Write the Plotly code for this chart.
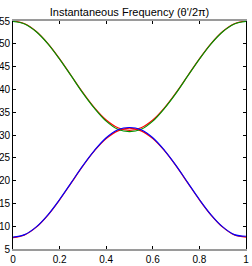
import plotly.graph_objects as go

t = [0.0, 0.05, 0.1, 0.15, 0.2, 0.25, 0.3, 0.35, 0.4, 0.45, 0.5,
     0.55, 0.6, 0.65, 0.7, 0.75, 0.8, 0.85, 0.9, 0.95, 1.0]

upper_true = [55.0, 54.41, 52.71, 50.05, 46.71, 43.0, 39.29, 35.95, 33.29, 31.59, 31.0,
              31.59, 33.29, 35.95, 39.29, 43.0, 46.71, 50.05, 52.71, 54.41, 55.0]
upper_est = [54.9, 54.35, 52.65, 50.0, 46.65, 42.95, 39.2, 35.85, 33.05, 31.25, 30.75,
             31.25, 33.05, 35.85, 39.2, 42.95, 46.65, 50.0, 52.65, 54.35, 54.9]
lower_true = [7.5, 8.09, 9.79, 12.45, 15.79, 19.5, 23.21, 26.55, 29.21, 30.91, 31.5,
              30.91, 29.21, 26.55, 23.21, 19.5, 15.79, 12.45, 9.79, 8.09, 7.6]
lower_est = [7.6, 8.15, 9.85, 12.5, 15.85, 19.55, 23.3, 26.65, 29.4, 31.15, 31.65,
             31.15, 29.4, 26.65, 23.3, 19.55, 15.85, 12.5, 9.85, 8.15, 7.8]

x_ticks = [0, 0.2, 0.4, 0.6, 0.8, 1]
x_tick_text = ["0", "0.2", "0.4", "0.6", "0.8", "1"]
y_ticks = [5, 10, 15, 20, 25, 30, 35, 40, 45, 50, 55]

fig = go.Figure()
line_kw = dict(mode="lines", line_shape="spline", hoverinfo="skip", showlegend=False)
fig.add_trace(go.Scatter(x=t, y=upper_true, line=dict(color="rgb(255,0,0)", width=1.2), **line_kw))
fig.add_trace(go.Scatter(x=t, y=lower_true, line=dict(color="rgb(255,0,0)", width=1.2), **line_kw))
fig.add_trace(go.Scatter(x=t, y=upper_est, line=dict(color="rgb(0,150,0)", width=1.2), **line_kw))
fig.add_trace(go.Scatter(x=t, y=lower_est, line=dict(color="rgb(0,0,255)", width=1.2), **line_kw))

font = dict(family="Liberation Sans, Arial, sans-serif", size=10, color="black")

fig.update_layout(
    width=252, height=266,
    margin=dict(l=13, r=6, t=21, b=17, pad=0),
    paper_bgcolor="white", plot_bgcolor="white",
    font=font,
    title=dict(text="Instantaneous Frequency (θ'/2π)", x=0.5, xref="paper",
               y=1 - 12 / 266, yref="container", yanchor="middle", xanchor="center",
               font=dict(family="Liberation Sans, Arial, sans-serif", size=11, color="black")),
    xaxis=dict(range=[0, 1], tickvals=x_ticks, ticktext=x_tick_text,
               ticks="inside", ticklen=3, tickcolor="black", showgrid=False, zeroline=False,
               showline=True, linecolor="#9a9a9a", linewidth=2, mirror="ticks",
               automargin=False, tickfont=font),
    yaxis=dict(range=[5, 55], tickvals=y_ticks,
               ticks="inside", ticklen=3, tickcolor="black", showgrid=False, zeroline=False,
               showline=True, linecolor="black", linewidth=1, mirror="ticks",
               automargin=False, tickfont=font),
)

fig.write_html("out.html", config={"displayModeBar": False},
               post_script="document.body.style.margin='0';document.body.style.overflow='hidden';")
